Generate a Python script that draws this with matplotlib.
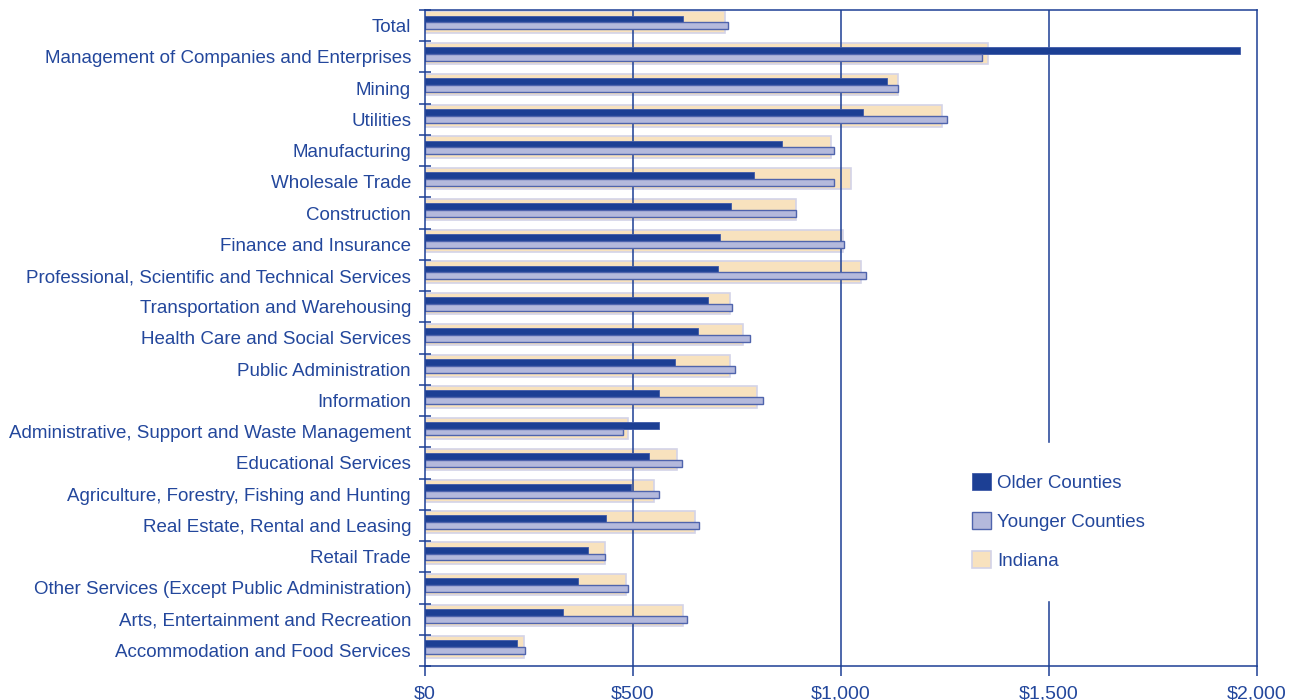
import matplotlib.pyplot as plt
import numpy as np

categories = ["Total",
              "Management of Companies and Enterprises",
              "Mining",
              "Utilities",
              "Manufacturing",
              "Wholesale Trade",
              "Construction",
              "Finance and Insurance",
              "Professional, Scientific and Technical Services",
              "Transportation and Warehousing",
              "Health Care and Social Services",
              "Public Administration",
              "Information",
              "Administrative, Support and Waste Management",
              "Educational Services",
              "Agriculture, Forestry, Fishing and Hunting",
              "Real Estate, Rental and Leasing",
              "Retail Trade",
              "Other Services (Except Public Administration)",
              "Arts, Entertainment and Recreation",
              "Accommodation and Food Services"]

older = [619, 1959, 1110, 1054, 859, 792, 736, 710, 705, 681, 657, 602, 563,
         563, 539, 496, 436, 392, 368, 332, 221]
younger = [728, 1340, 1138, 1254, 984, 984, 893, 1008, 1059, 739, 782, 746, 813,
           477, 618, 563, 659, 433, 489, 631, 240]
indiana = [722, 1353, 1138, 1242, 975, 1023, 893, 1004, 1047, 734, 765, 734, 797,
           489, 605, 551, 650, 433, 484, 619, 238]

xticks = [0, 500, 1000, 1500, 2000]
xticklabels = ["$0", "$500", "$1,000", "$1,500", "$2,000"]

navy = "#1c3f94"
text_col = "#23479c"

plt.rcParams["font.family"] = ["Liberation Sans", "DejaVu Sans"]

fig = plt.figure(figsize=(12.95, 7), dpi=100)
ax = fig.add_axes([425 / 1295, 1 - 666 / 700, 832 / 1295, 656 / 700])

y = np.arange(len(categories))

ax.barh(y - 0.11, indiana, height=0.69, color="#f8e2be", edgecolor="#d3d3e8",
        linewidth=1.2, zorder=1, label="Indiana")
for v in [500, 1000, 1500]:
    ax.axvline(v, color=navy, linewidth=1.1, zorder=1.5)
ax.barh(y - 0.21, older, height=0.22, color=navy, edgecolor="#3f5aa8",
        linewidth=0.6, zorder=2, label="Older Counties")
ax.barh(y + 0.01, younger, height=0.22, color="#b4b9dc", edgecolor="#4f64ad",
        linewidth=1.0, zorder=2, label="Younger Counties")

ax.set_xlim(0, 2000)
ax.set_ylim(len(categories) - 0.5, -0.5)

ax.set_yticks(y)
ax.set_yticklabels(categories, fontsize=13.5, color=text_col)
ax.set_yticks(np.arange(len(categories) + 1) - 0.5, minor=True)
ax.tick_params(axis="y", which="major", length=0, pad=10)
ax.tick_params(axis="y", which="minor", direction="inout", length=9, width=1.1,
               color=navy)

ax.set_xticks(xticks)
ax.set_xticklabels(xticklabels, fontsize=14, color=text_col)
ax.tick_params(axis="x", direction="out", length=7, width=1.1, color=navy, pad=7)

for s in ax.spines.values():
    s.set_color(navy)
    s.set_linewidth(1.1)

handles, labels = ax.get_legend_handles_labels()
order = [1, 2, 0]
leg = ax.legend([handles[i] for i in order], [labels[i] for i in order],
                loc="upper left", bbox_to_anchor=(942 / 1295, 1 - 443 / 700),
                bbox_transform=fig.transFigure, fontsize=13.5, borderaxespad=0,
                frameon=True, facecolor="white", edgecolor="white", framealpha=1,
                fancybox=False, borderpad=1.6, labelspacing=1.08,
                handlelength=1.0, handleheight=1.0, handletextpad=0.35)
leg.set_zorder(5)
for t in leg.get_texts():
    t.set_color(text_col)

fig.savefig("out.png", dpi=100)
